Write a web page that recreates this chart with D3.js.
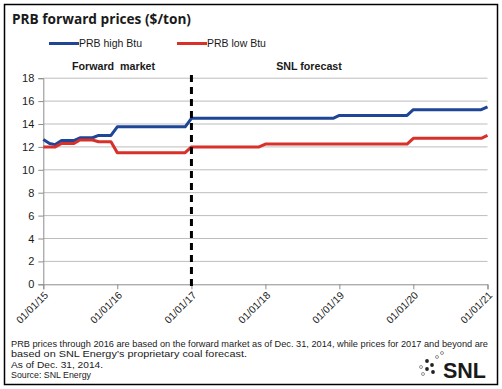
<!DOCTYPE html>
<html>
<head>
<meta charset="utf-8">
<script src="https://cdn.jsdelivr.net/npm/d3@7"></script>
<style>
  body { margin: 0; background: #fff; }
  svg { display: block; }
  text { fill: #1a1a1a; }
</style>
</head>
<body>
<svg id="chart" width="502" height="389"></svg>
<script>
// data (breakpoints of the monthly step lines)
const highDates = ["2015-01","2015-02","2015-03","2015-04","2015-06","2015-07","2015-09","2015-10","2015-12","2016-01","2016-12","2017-01","2018-12","2019-01","2019-12","2020-01","2020-12","2021-01"];
const highValues = [12.65,12.3,12.2,12.55,12.55,12.8,12.8,13.0,13.0,13.75,13.75,14.5,14.5,14.75,14.75,15.25,15.25,15.5];
const lowDates = ["2015-01","2015-03","2015-04","2015-06","2015-07","2015-09","2015-10","2015-12","2016-01","2016-12","2017-01","2017-12","2018-01","2019-12","2020-01","2020-12","2021-01"];
const lowValues = [12.0,12.0,12.3,12.3,12.6,12.6,12.45,12.45,11.5,11.5,12.0,12.0,12.25,12.25,12.75,12.75,13.0];
const seriesNames = ["PRB high Btu", "PRB low Btu"];
const seriesColors = ["#1f4596", "#d8312b"];
const yTicks = [0,2,4,6,8,10,12,14,16,18];
const xTickDates = ["2015-01","2016-01","2017-01","2018-01","2019-01","2020-01","2021-01"];
const dividerDate = "2017-01";
const notes = [
  "PRB prices through 2016 are based on the forward market as of Dec. 31, 2014, while prices for 2017 and beyond are",
  "based on SNL Energy\u2019s proprietary coal forecast.",
  "As of Dec. 31, 2014.",
  "Source: SNL Energy"
];
const noteWidths = [477, 236, 92, 80];

const parse = d3.timeParse("%Y-%m");
const fmt = d3.timeFormat("%m/%d/%y");
const axisFont = "'Liberation Sans', Arial, sans-serif";

const svg = d3.select("#chart");

// frame
svg.append("rect")
  .attr("x", 4.5).attr("y", 4.5).attr("width", 493).attr("height", 380)
  .attr("fill", "none").attr("stroke", "#000").attr("stroke-width", 1.5);

// title
svg.append("text")
  .attr("x", 12).attr("y", 23.5)
  .attr("font-family", "'Open Sans', sans-serif")
  .attr("font-weight", 700).attr("font-size", 14.5)
  .attr("textLength", 179).attr("lengthAdjust", "spacingAndGlyphs")
  .text("PRB forward prices ($/ton)");

const x = d3.scaleTime()
  .domain([parse("2015-01"), parse("2021-01")])
  .range([43.3, 487.5]);
const y = d3.scaleLinear()
  .domain([0, 18])
  .range([284.3, 78.2]);

const g = svg.append("g");

// grid
g.selectAll(".grid").data(yTicks.filter(d => d > 0)).enter()
  .append("line")
  .attr("x1", x.range()[0]).attr("x2", x.range()[1])
  .attr("y1", d => y(d)).attr("y2", d => y(d))
  .attr("stroke", "#bdbdbd").attr("stroke-width", 1);

// y axis
const yAxis = g.append("g")
  .attr("transform", `translate(${x.range()[0]},0)`)
  .call(d3.axisLeft(y).tickValues(yTicks).tickSize(5).tickPadding(4));
yAxis.select(".domain").attr("stroke", "#8c8c8c");
yAxis.selectAll(".tick line").attr("stroke", "#8c8c8c");
yAxis.selectAll(".tick text")
  .attr("font-family", axisFont)
  .attr("font-size", 11).attr("fill", "#1a1a1a");

// x axis (labels drawn separately, rotated 45 degrees)
const xAxis = g.append("g")
  .attr("transform", `translate(0,${y(0)})`)
  .call(d3.axisBottom(x).tickValues(xTickDates.map(parse)).tickSize(5).tickFormat(""));
xAxis.select(".domain").attr("stroke", "#8c8c8c");
xAxis.selectAll(".tick line").attr("stroke", "#8c8c8c");

g.append("g").selectAll("text").data(xTickDates.map(parse)).enter()
  .append("text")
  .attr("transform", d => `translate(${x(d) + 3},${y(0) + 9}) rotate(-45)`)
  .attr("text-anchor", "end")
  .attr("dy", "0.35em")
  .attr("font-family", axisFont)
  .attr("font-size", 10.3)
  .text(fmt);

// lines
const line = d3.line().x(d => x(d[0])).y(d => y(d[1]));
const series = [
  highDates.map((d, i) => [parse(d), highValues[i]]),
  lowDates.map((d, i) => [parse(d), lowValues[i]])
];
g.selectAll(".series").data(series).enter()
  .append("path")
  .attr("d", line)
  .attr("fill", "none")
  .attr("stroke", (d, i) => seriesColors[i])
  .attr("stroke-width", 3)
  .attr("stroke-linejoin", "round");

// divider between forward market and forecast
g.append("line")
  .attr("x1", x(parse(dividerDate))).attr("x2", x(parse(dividerDate)))
  .attr("y1", 75).attr("y2", 289)
  .attr("stroke", "#000").attr("stroke-width", 3)
  .attr("stroke-dasharray", "7,5");

// section labels
const lab = svg.append("g")
  .attr("font-family", axisFont)
  .attr("font-weight", 700).attr("font-size", 10.7);
lab.append("text").attr("x", 113.5).attr("y", 70).attr("text-anchor", "middle")
  .style("white-space", "pre").text("Forward  market");
lab.append("text").attr("x", 309).attr("y", 70).attr("text-anchor", "middle")
  .text("SNL forecast");

// legend
const legX = [49, 177];
const leg = svg.append("g");
seriesNames.forEach((name, i) => {
  leg.append("line")
    .attr("x1", legX[i]).attr("x2", legX[i] + 30)
    .attr("y1", 43.5).attr("y2", 43.5)
    .attr("stroke", seriesColors[i]).attr("stroke-width", 3);
  leg.append("text")
    .attr("x", legX[i] + 30).attr("y", 47.3)
    .attr("font-family", axisFont)
    .attr("font-size", 10.5)
    .text(name);
});

// footnotes
svg.append("g").selectAll("text").data(notes).enter()
  .append("text")
  .attr("x", 11).attr("y", (d, i) => 347.3 + i * 10.1)
  .attr("font-family", axisFont)
  .attr("font-size", 8.8)
  .attr("textLength", (d, i) => noteWidths[i])
  .attr("lengthAdjust", "spacingAndGlyphs")
  .text(d => d);

// SNL logo
const logo = svg.append("g");
const filledDots = [[427, 361], [432, 365], [427, 369], [433, 372]];
const hollowDots = [[437, 357], [442, 353], [421, 367], [423, 374]];
logo.selectAll(".f").data(filledDots).enter().append("circle")
  .attr("cx", d => d[0]).attr("cy", d => d[1]).attr("r", 1.9).attr("fill", "#222");
logo.selectAll(".h").data(hollowDots).enter().append("circle")
  .attr("cx", d => d[0]).attr("cy", d => d[1]).attr("r", 1.5)
  .attr("fill", "none").attr("stroke", "#666").attr("stroke-width", 0.7);
logo.append("text")
  .attr("x", 443).attr("y", 378)
  .attr("font-family", axisFont)
  .attr("font-weight", 700).attr("font-size", 22)
  .attr("textLength", 43).attr("lengthAdjust", "spacingAndGlyphs")
  .text("SNL");
</script>
</body>
</html>
